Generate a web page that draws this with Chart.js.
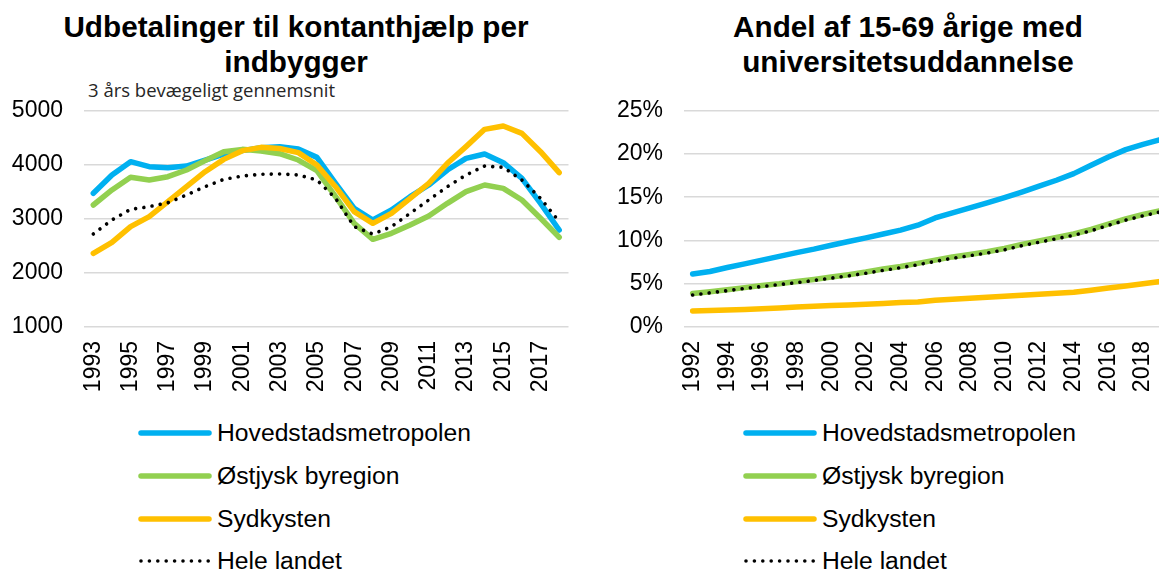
<!DOCTYPE html>
<html>
<head>
<meta charset="utf-8">
<script src="https://cdn.jsdelivr.net/npm/chart.js@4.4.1/dist/chart.umd.min.js"></script>
<style>
html,body{margin:0;padding:0;width:1159px;height:570px;overflow:hidden;background:#fff;font-family:"Liberation Sans",Arial,sans-serif;}
.abs{position:absolute;}
.title{font-weight:bold;font-size:29.7px;line-height:35px;text-align:center;color:#000;white-space:nowrap;}
.sub{font-family:"Open Sans",sans-serif;font-size:18.5px;line-height:22px;color:#262626;white-space:nowrap;}
.legend .lrow{display:flex;align-items:center;height:42.7px;}
.legend svg{display:block;margin-right:5px;}
.legend span{font-size:24.7px;color:#000;white-space:nowrap;}
</style>
</head>
<body>
<div class="abs title" style="left:0;top:9px;width:592px;">Udbetalinger til kontanthjælp per<br>indbygger</div>
<div class="abs sub" style="left:88px;top:79px;">3 års bevægeligt gennemsnit</div>
<div class="abs title" style="left:608px;top:9px;width:600px;">Andel af 15-69 årige med<br>universitetsuddannelse</div>

<div class="abs" style="left:0;top:0;"><canvas id="c1" width="590" height="400"></canvas></div>
<div class="abs" style="left:600px;top:0;width:580px;"><canvas id="c2" width="580" height="400"></canvas></div>

<div class="abs legend" id="leg1" style="left:138px;top:412px;"></div>
<div class="abs legend" id="leg2" style="left:743px;top:412px;"></div>

<script>
// ---- Data: left chart (kontanthjælp per indbygger, 3-year moving average)
const yearsLeft = ['1993','1994','1995','1996','1997','1998','1999','2000','2001','2002','2003','2004','2005','2006','2007','2008','2009','2010','2011','2012','2013','2014','2015','2016','2017','2018'];
const kontHoved  = [3472,3811,4057,3965,3946,3977,4088,4199,4261,4316,4335,4291,4137,3657,3195,2979,3164,3410,3626,3903,4119,4199,4039,3749,3287,2794];
const kontOstjysk= [3256,3534,3768,3718,3780,3903,4076,4242,4285,4254,4205,4088,3891,3410,2917,2622,2733,2887,3053,3287,3503,3626,3564,3349,3010,2659];
const kontSydkyst= [2363,2566,2856,3041,3318,3595,3872,4100,4261,4322,4300,4224,3996,3595,3133,2917,3102,3380,3657,4027,4335,4655,4717,4581,4242,3854];
const kontLandet = [2720,2979,3176,3226,3299,3441,3595,3731,3792,3823,3830,3811,3718,3380,2856,2720,2856,3102,3349,3595,3811,3977,3953,3718,3380,2948];
const leftTicks = [1000,5000,1000]; // min, max, step

// ---- Data: right chart (andel med universitetsuddannelse, %)
const yearsRight = ['1992','1993','1994','1995','1996','1997','1998','1999','2000','2001','2002','2003','2004','2005','2006','2007','2008','2009','2010','2011','2012','2013','2014','2015','2016','2017','2018','2019'];
const uniHoved  = [6.12,6.42,6.88,7.3,7.73,8.16,8.6,9.0,9.45,9.88,10.3,10.75,11.2,11.77,12.6,13.2,13.77,14.35,14.96,15.6,16.27,16.96,17.73,18.7,19.65,20.5,21.1,21.65];
const uniOstjysk= [3.88,4.08,4.3,4.55,4.8,5.0,5.25,5.5,5.78,6.05,6.35,6.7,7.0,7.35,7.73,8.1,8.38,8.69,9.08,9.55,9.96,10.35,10.75,11.27,11.9,12.5,13.0,13.45];
const uniSydkyst= [1.85,1.9,1.96,2.03,2.1,2.2,2.32,2.4,2.48,2.55,2.63,2.72,2.82,2.9,3.1,3.22,3.33,3.44,3.55,3.66,3.78,3.9,4.02,4.25,4.5,4.75,5.0,5.25];
const uniLandet = [3.7,3.95,4.2,4.45,4.68,4.9,5.13,5.38,5.65,5.92,6.22,6.55,6.85,7.2,7.58,7.95,8.25,8.55,8.92,9.4,9.8,10.2,10.6,11.12,11.75,12.35,12.85,13.3];
const rightTicks = [0,25,5];

const seriesNames  = ['Hovedstadsmetropolen','Østjysk byregion','Sydkysten','Hele landet'];
const seriesColors = ['#00B0F0','#92D050','#FFC000','#000000'];
const seriesDotted = [false,false,false,true];

const FONT = '"Liberation Sans", Arial, sans-serif';

function makeDataset(i, data){
  const dotted = seriesDotted[i];
  return {
    label: seriesNames[i],
    data: data,
    borderColor: seriesColors[i],
    backgroundColor: seriesColors[i],
    borderWidth: dotted ? 3.6 : 5.5,
    borderDash: dotted ? [0.01, 8.3] : [],
    borderCapStyle: 'round',
    borderJoinStyle: 'round',
    pointRadius: 0,
    pointHoverRadius: 0,
    tension: 0,
    fill: false,
    order: 4 - i
  };
}

function makeChart(id, labels, series, yt, fmt, padRight){
  return new Chart(document.getElementById(id), {
    type: 'line',
    data: { labels: labels, datasets: series.map((d,i)=>makeDataset(i,d)) },
    options: {
      responsive: false,
      animation: false,
      devicePixelRatio: 1,
      layout: { padding: { top: 110.7, right: padRight, bottom: 0, left: 0 } },
      plugins: { legend: { display: false }, tooltip: { enabled: false }, title: { display: false } },
      scales: {
        x: {
          offset: true,
          grid: { display: false, drawTicks: false },
          border: { display: false },
          afterFit: s => { s.height = 73; s.paddingLeft = 0; s.paddingRight = 0; },
          ticks: {
            autoSkip: false, maxRotation: 90, minRotation: 90, padding: 14,
            color: '#000', font: { family: FONT, size: 23 },
            callback: (v, idx) => idx % 2 === 0 ? labels[idx] : ''
          }
        },
        y: {
          min: yt[0], max: yt[1],
          grid: { color: '#D9D9D9', lineWidth: 1.6, drawTicks: false },
          border: { display: false },
          afterFit: s => { s.width = 84; s.paddingTop = 0; s.paddingBottom = 0; },
          ticks: {
            stepSize: yt[2], padding: 21, color: '#000',
            font: { family: FONT, size: 23 },
            callback: fmt
          }
        }
      }
    }
  });
}

makeChart('c1', yearsLeft, [kontHoved, kontOstjysk, kontSydkyst, kontLandet], leftTicks, v => String(v), 21.5);
makeChart('c2', yearsRight, [uniHoved, uniOstjysk, uniSydkyst, uniLandet], rightTicks, v => v + '%', 11);

function buildLegend(elId){
  const el = document.getElementById(elId);
  seriesNames.forEach((n, i) => {
    const row = document.createElement('div');
    row.className = 'lrow';
    const dotted = seriesDotted[i];
    row.innerHTML = '<svg width="74" height="12"><line x1="3" y1="6" x2="71" y2="6" stroke="' + seriesColors[i] +
      '" stroke-width="' + (dotted ? 3.6 : 5.5) + '" stroke-linecap="round"' + (dotted ? ' stroke-dasharray="0 8.4"' : '') +
      '/></svg><span>' + n + '</span>';
    el.appendChild(row);
  });
}
buildLegend('leg1');
buildLegend('leg2');
</script>
</body>
</html>
